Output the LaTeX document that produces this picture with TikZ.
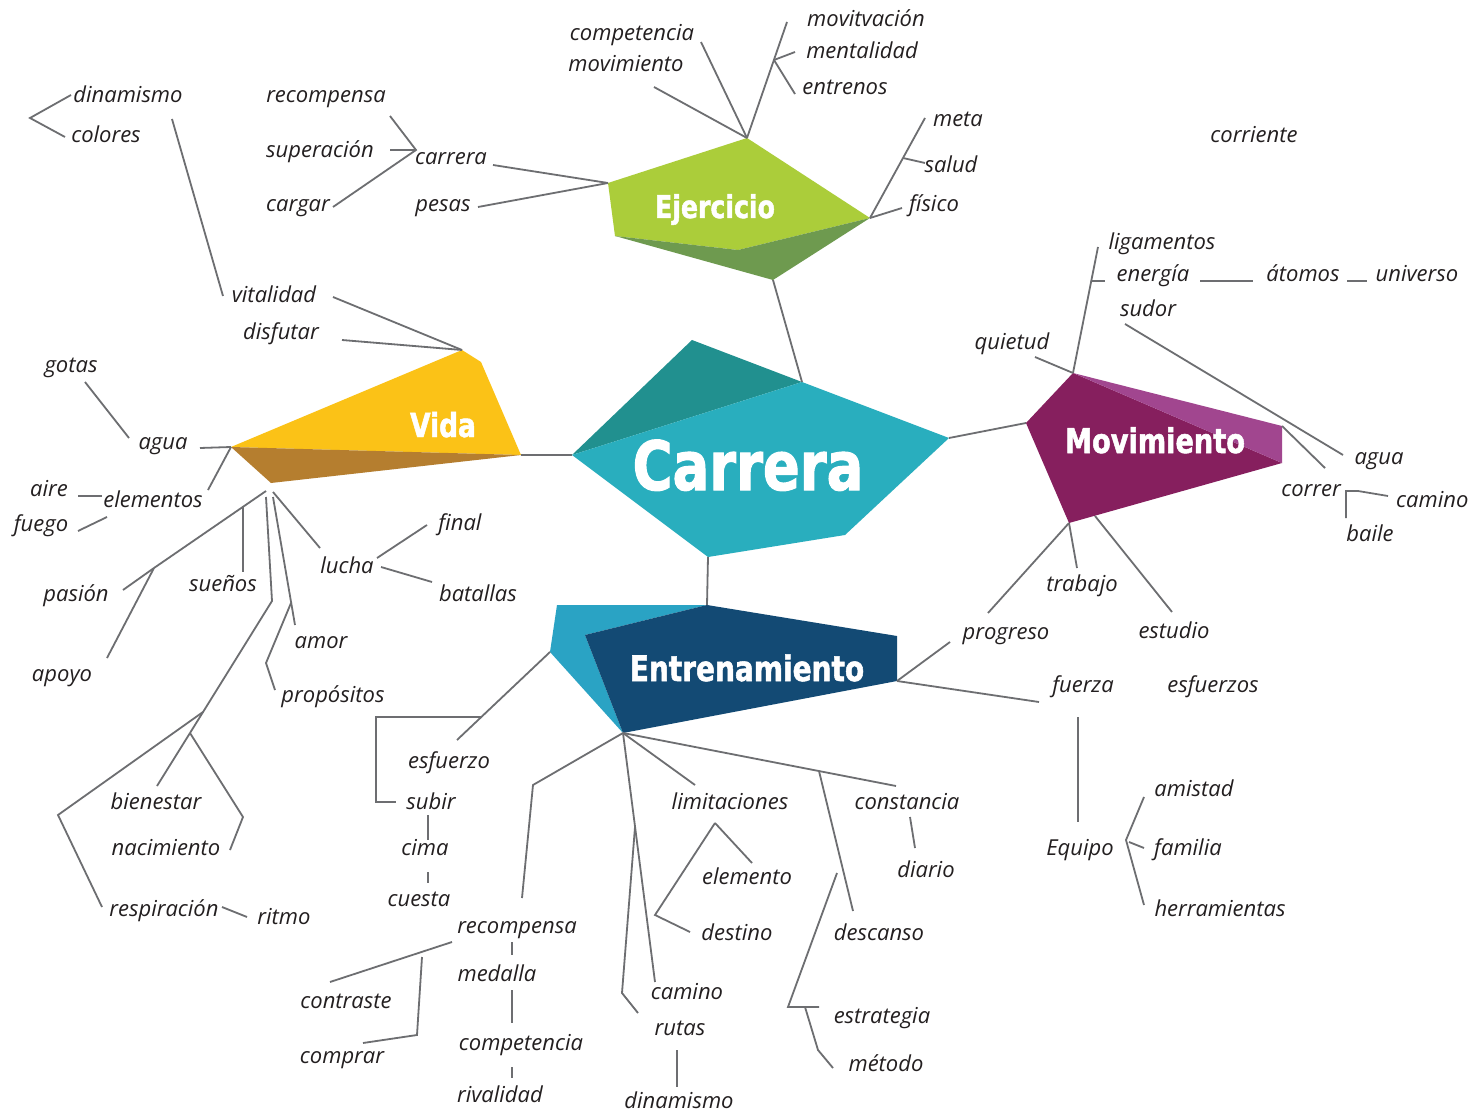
\documentclass[tikz,border=0pt]{standalone}
\usepackage{fontspec}
\setmainfont{Open Sans}
\newfontfamily\titlefont{DejaVu Sans}[FakeStretch=0.8, FakeBold=1.5]
\definecolor{egreen}{HTML}{ABCD3A}
\definecolor{edark}{HTML}{6E9A4F}
\definecolor{clight}{HTML}{29AEBE}
\definecolor{cdark}{HTML}{21908F}
\definecolor{vyellow}{HTML}{FBC217}
\definecolor{vbrown}{HTML}{B57E2F}
\definecolor{nlight}{HTML}{2AA3C4}
\definecolor{navy}{HTML}{134A74}
\definecolor{mdark}{HTML}{861F5E}
\definecolor{mlight}{HTML}{A1468F}
\definecolor{linegray}{HTML}{6D6E71}
\definecolor{txt}{HTML}{231F20}
\begin{document}
\begin{tikzpicture}[x=1pt,y=-1pt,
  lbl/.style={font=\fontsize{22}{25}\selectfont\itshape, inner sep=0pt, text=txt, anchor=base, yshift=-8pt},
  ln/.style={draw=linegray, line width=1.8pt},
  ttl/.style={font=\titlefont\bfseries\fontsize{#1}{#1}\selectfont, text=white, inner sep=0pt, anchor=base}]
\clip (0,0) rectangle (1473,1115);
\fill[white] (0,0) rectangle (1473,1115);

% ---------- shape vertices ----------
\coordinate (Et) at (747,138); \coordinate (El) at (608,183); \coordinate (Ebl) at (615,236);
\coordinate (Eb) at (773,280); \coordinate (Er) at (870,218); \coordinate (Em) at (738,250);
\coordinate (Ctop) at (692,340); \coordinate (Cl) at (572,455); \coordinate (Cb) at (708,557);
\coordinate (Cbr) at (845,535); \coordinate (Cr) at (949,438); \coordinate (Cm) at (802,382);
\coordinate (Va) at (462,350); \coordinate (Vur) at (481,362); \coordinate (Vr) at (521,455);
\coordinate (Vb) at (271,483); \coordinate (Vl) at (231,447);
\coordinate (Nl) at (550,652); \coordinate (Ntl) at (557,605); \coordinate (Nt) at (707,605);
\coordinate (Nil) at (585,635); \coordinate (Nb) at (623,733); \coordinate (Ntr) at (897,636);
\coordinate (Nr) at (897,681);
\coordinate (Mt) at (1073,373); \coordinate (Ml) at (1026,423); \coordinate (Mb) at (1069,523);
\coordinate (Mrl) at (1282,463); \coordinate (Mru) at (1282,426);

% ---------- shapes ----------
\fill[egreen] (El)--(Et)--(Er)--(Em)--(Ebl)--cycle;
\fill[edark] (Ebl)--(Em)--(Er)--(Eb)--cycle;
\fill[cdark] (Cl)--(Ctop)--(Cm)--cycle;
\fill[clight] (Cl)--(Cm)--(Cr)--(Cbr)--(Cb)--cycle;
\fill[vyellow] (Vl)--(Va)--(Vur)--(Vr)--cycle;
\fill[vbrown] (Vl)--(Vr)--(Vb)--cycle;
\fill[nlight] (Ntl)--(Nt)--(Nil)--(Nb)--(Nl)--cycle;
\fill[navy] (Nil)--(Nt)--(Ntr)--(Nr)--(Nb)--cycle;
\fill[mdark] (Mt)--(Mrl)--(Mb)--(Ml)--cycle;
\fill[mlight] (Mt)--(Mru)--(Mrl)--cycle;

\node[ttl=68] (carreraT) at (748,490) {Carrera};
\node[ttl=31.5] (ejercicioT) at (715,218) {Ejercicio};
\node[ttl=33] (vidaT) at (443,437) {Vida};
\node[ttl=34] (movT) at (1155,453) {Movimiento};
\node[ttl=35] (entT) at (747,681) {Entrenamiento};

% ---------- main connectors ----------
\draw[ln] (Eb)--(Cm);
\draw[ln] (Vr)--(Cl);
\draw[ln] (Cr)--(Ml);
\draw[ln] (Cb)--(Nt);

% ---------- Ejercicio branches ----------
\draw[ln] (Et)--(701,42);
\draw[ln] (Et)--(654,87);
\draw[ln] (Et)--(787,22);
\draw[ln] (774,60)--(795,52);
\draw[ln] (774,60)--(795,94);
\draw[ln] (Er)--(925,118);
\draw[ln] (903,158)--(925,163);
\draw[ln] (Er)--(902,208);
\draw[ln] (El)--(493,165);
\draw[ln] (El)--(478,207);
\draw[ln] (390,116)--(416,150)--(333,207);
\draw[ln] (390,150)--(416,150);

% ---------- Vida branches ----------
\draw[ln] (Va)--(333,297);
\draw[ln] (Va)--(342,340);
\draw[ln] (172,119)--(223,296);
\draw[ln] (71,95)--(30,118)--(65,137);
\draw[ln] (Vl)--(200,448);
\draw[ln] (85,382)--(129,438);
\draw[ln] (Vl)--(208,490);
\draw[ln] (78,496)--(102,496);
\draw[ln] (78,531)--(107,517);
\draw[ln] (266,491)--(154,568);
\draw[ln] (154,568)--(123,590);
\draw[ln] (154,568)--(107,658);
\draw[ln] (243,507)--(243,572);
\draw[ln] (266,497)--(272,601)--(190,733);
\draw[ln] (203,712)--(58,815)--(102,907);
\draw[ln] (190,733)--(157,786);
\draw[ln] (190,733)--(243,817)--(230,850);
\draw[ln] (222,907)--(247,917);
\draw[ln] (273,497)--(295,625);
\draw[ln] (291,603)--(266,663)--(275,690);
\draw[ln] (273,492)--(320,548);
\draw[ln] (377,558)--(427,525);
\draw[ln] (381,567)--(432,582);

% ---------- Entrenamiento branches ----------
\draw[ln] (Nl)--(457,740);
\draw[ln] (481,717)--(376,717)--(376,802)--(396,802);
\draw[ln] (428,815)--(428,840);
\draw[ln] (428,872)--(428,883);
\draw[ln] (Nb)--(533,785)--(522,898);
\draw[ln] (Nb)--(695,785);
\draw[ln] (Nb)--(655,982);
\draw[ln] (635,827)--(622,993)--(638,1013);
\draw[ln] (Nb)--(896,786);
\draw[ln] (819,771)--(853,911);
\draw[ln] (910,817)--(915,848);
\draw[ln] (837,873)--(788,1007)--(819,1007);
\draw[ln] (805,1007)--(818,1050)--(833,1068);
\draw[ln] (715,823)--(752,863);
\draw[ln] (715,823)--(655,915)--(690,932);
\draw[ln] (512,942)--(512,955);
\draw[ln] (512,990)--(512,1023);
\draw[ln] (512,1067)--(512,1078);
\draw[ln] (452,942)--(330,982);
\draw[ln] (422,957)--(417,1035)--(363,1043);
\draw[ln] (677,1050)--(677,1087);
\draw[ln] (Nr)--(950,642);
\draw[ln] (Nr)--(1039,702);
\draw[ln] (1078,717)--(1078,822);
\draw[ln] (1144,797)--(1126,840)--(1144,905);
\draw[ln] (1129,842)--(1144,848);

% ---------- Movimiento branches ----------
\draw[ln] (1035,357)--(Mt);
\draw[ln] (Mt)--(1098,247);
\draw[ln] (1091,281)--(1105,281);
\draw[ln] (1200,281)--(1253,281);
\draw[ln] (1347,281)--(1367,281);
\draw[ln] (1125,324)--(1343,455);
\draw[ln] (Mru)--(1325,468);
\draw[ln] (1346,518)--(1346,491)--(1358,491)--(1388,496);
\draw[ln] (Mb)--(1077,568);
\draw[ln] (Mb)--(988,613);
\draw[ln] (1095,516)--(1172,612);

% ---------- labels ----------
\node[lbl] (dinamismoA) at (128,95) {dinamismo};
\node[lbl] (colores) at (106,135) {colores};
\node[lbl] (recompensaA) at (326,95) {recompensa};
\node[lbl] (superacion) at (320,150) {superación};
\node[lbl] (cargar) at (298,204) {cargar};
\node[lbl] (carrera) at (451,157) {carrera};
\node[lbl] (pesas) at (443,204) {pesas};
\node[lbl] (competenciaA) at (632,33) {competencia};
\node[lbl] (movimiento) at (626,64) {movimiento};
\node[lbl] (movitvacion) at (866,19) {movitvación};
\node[lbl] (mentalidad) at (862,51) {mentalidad};
\node[lbl] (entrenos) at (845,87) {entrenos};
\node[lbl] (meta) at (958,119) {meta};
\node[lbl] (salud) at (951,165) {salud};
\node[lbl] (fisico) at (934,204) {físico};
\node[lbl] (corriente) at (1254,135) {corriente};
\node[lbl] (vitalidad) at (274,295) {vitalidad};
\node[lbl] (disfutar) at (281,332) {disfutar};
\node[lbl] (gotas) at (71,364) {gotas};
\node[lbl] (aguaA) at (163,441) {agua};
\node[lbl] (aire) at (49,488) {aire};
\node[lbl] (elementos) at (153,499) {elementos};
\node[lbl] (fuego) at (41,523) {fuego};
\node[lbl] (pasion) at (76,593) {pasión};
\node[lbl] (suenos) at (223,583) {sueños};
\node[lbl] (apoyo) at (62,673) {apoyo};
\node[lbl] (lucha) at (347,565) {lucha};
\node[lbl] (final) at (460,522) {final};
\node[lbl] (batallas) at (478,593) {batallas};
\node[lbl] (amor) at (321,640) {amor};
\node[lbl] (propositos) at (333,694) {propósitos};
\node[lbl] (bienestar) at (156,801) {bienestar};
\node[lbl] (nacimiento) at (166,847) {nacimiento};
\node[lbl] (respiracion) at (164,908) {respiración};
\node[lbl] (ritmo) at (284,916) {ritmo};
\node[lbl] (esfuerzo) at (449,760) {esfuerzo};
\node[lbl] (subir) at (431,801) {subir};
\node[lbl] (cima) at (425,847) {cima};
\node[lbl] (cuesta) at (419,898) {cuesta};
\node[lbl] (recompensaB) at (517,925) {recompensa};
\node[lbl] (medalla) at (497,973) {medalla};
\node[lbl] (competenciaB) at (521,1042) {competencia};
\node[lbl] (rivalidad) at (500,1094) {rivalidad};
\node[lbl] (contraste) at (346,1000) {contraste};
\node[lbl] (comprar) at (342,1055) {comprar};
\node[lbl] (limitaciones) at (730,801) {limitaciones};
\node[lbl] (elemento) at (747,876) {elemento};
\node[lbl] (destino) at (737,932) {destino};
\node[lbl] (caminoA) at (687,991) {camino};
\node[lbl] (rutas) at (680,1027) {rutas};
\node[lbl] (dinamismoB) at (679,1100) {dinamismo};
\node[lbl] (constancia) at (907,801) {constancia};
\node[lbl] (diario) at (926,869) {diario};
\node[lbl] (descanso) at (879,932) {descanso};
\node[lbl] (estrategia) at (882,1015) {estrategia};
\node[lbl] (metodo) at (886,1063) {método};
\node[lbl] (progreso) at (1006,631) {progreso};
\node[lbl] (fuerza) at (1083,684) {fuerza};
\node[lbl] (esfuerzos) at (1213,684) {esfuerzos};
\node[lbl] (equipo) at (1080,847) {Equipo};
\node[lbl] (amistad) at (1194,788) {amistad};
\node[lbl] (familia) at (1188,847) {familia};
\node[lbl] (herramientas) at (1220,908) {herramientas};
\node[lbl] (quietud) at (1012,342) {quietud};
\node[lbl] (ligamentos) at (1162,242) {ligamentos};
\node[lbl] (energia) at (1153,274) {energía};
\node[lbl] (sudor) at (1148,309) {sudor};
\node[lbl] (atomos) at (1303,274) {átomos};
\node[lbl] (universo) at (1417,274) {universo};
\node[lbl] (aguaB) at (1379,456) {agua};
\node[lbl] (correr) at (1311,488) {correr};
\node[lbl, anchor=base west] (caminoB) at (1396,499) {camino};
\node[lbl] (baile) at (1370,533) {baile};
\node[lbl] (trabajo) at (1082,583) {trabajo};
\node[lbl] (estudio) at (1174,630) {estudio};
\end{tikzpicture}
\end{document}
